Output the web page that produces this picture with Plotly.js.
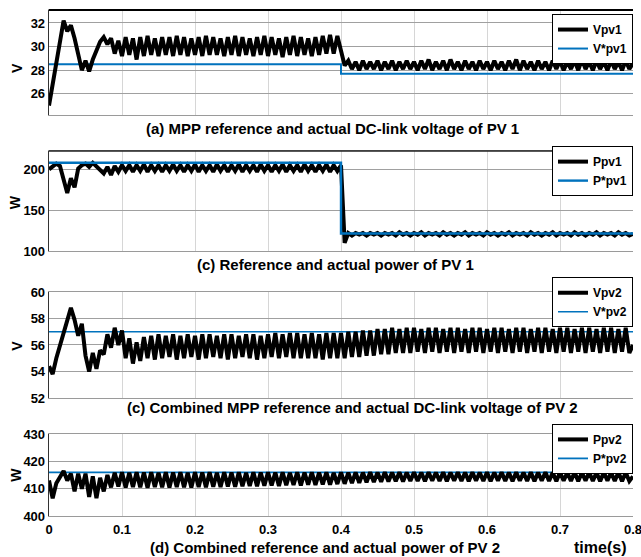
<!DOCTYPE html>
<html>
<head>
<meta charset="utf-8">
<script src="https://cdn.plot.ly/plotly-3.0.1.min.js"></script>
<style>
html,body{margin:0;padding:0;background:#fff;overflow:hidden;}
#chart{width:641px;height:557px;}
</style>
</head>
<body>
<div id="chart"></div>
<script>
// ---- Data (sampled every 0.005 s from 0 to 0.8 s) ----
const sampleStep = 0.005;

const vpv1 = [
  25.0, 26.9, 28.6, 30.8, 32.2, 31.3, 31.8, 30.7, 29.4, 28.0,
  28.8, 27.9, 28.9, 29.7, 30.4, 30.8, 30.2, 30.7, 29.4, 30.5,
  29.2, 30.8, 29.3, 30.7, 28.9, 30.8, 29.2, 30.9, 29.3, 30.7,
  29.2, 30.8, 29.3, 30.8, 29.2, 30.9, 29.3, 30.8, 29.2, 30.7,
  29.3, 30.8, 29.2, 30.9, 29.3, 30.8, 29.3, 30.7, 29.2, 30.8,
  29.3, 30.9, 29.2, 30.8, 29.3, 30.7, 29.2, 30.8, 29.3, 30.9,
  29.2, 30.8, 29.3, 30.7, 29.1, 30.8, 29.3, 30.9, 29.2, 30.8,
  29.3, 30.7, 29.2, 30.8, 29.3, 30.9, 29.4, 31.0, 29.4, 30.9,
  29.8, 28.4, 28.8, 28.1, 28.7, 28.0, 28.8, 28.1, 28.7, 28.1,
  28.8, 28.0, 28.7, 28.1, 28.8, 28.0, 28.7, 28.1, 28.8, 28.1,
  28.7, 28.0, 28.8, 28.1, 28.9, 28.0, 28.7, 28.1, 28.8, 28.0,
  28.9, 28.1, 28.7, 28.0, 28.8, 28.1, 28.7, 28.0, 28.8, 28.1,
  28.7, 28.0, 28.8, 28.1, 28.7, 28.0, 28.8, 28.1, 28.9, 28.0,
  28.8, 28.1, 28.7, 28.0, 28.8, 28.1, 28.7, 28.0, 28.8, 28.1,
  28.8, 28.0, 28.7, 28.1, 28.8, 28.0, 28.9, 28.1, 28.7, 28.0,
  28.8, 28.1, 28.7, 28.0, 28.8, 28.1, 28.7, 28.0, 28.8, 28.1,
  28.6
];

const ppv1 = [
  200, 204, 207, 204, 186, 171, 189, 178, 201, 205,
  207, 203, 208, 204, 199, 195, 203, 193, 204, 197,
  205, 198, 205, 197, 205, 198, 206, 197, 205, 198,
  205, 197, 205, 198, 206, 198, 205, 197, 205, 198,
  206, 197, 205, 198, 205, 197, 206, 198, 205, 197,
  205, 198, 206, 197, 205, 198, 205, 197, 206, 198,
  205, 197, 205, 198, 206, 197, 205, 198, 205, 197,
  206, 198, 205, 197, 205, 198, 206, 197, 205, 198,
  205, 110, 122, 119, 122, 120, 122, 119, 122, 120,
  122, 119, 122, 120, 122, 119, 123, 120, 122, 119,
  122, 120, 123, 119, 122, 120, 122, 119, 123, 120,
  122, 119, 122, 120, 123, 119, 122, 120, 122, 119,
  123, 120, 122, 119, 122, 120, 123, 119, 122, 120,
  122, 119, 123, 120, 122, 119, 122, 120, 123, 119,
  122, 120, 122, 119, 123, 120, 122, 119, 122, 120,
  123, 119, 122, 120, 122, 119, 123, 120, 122, 119,
  121
];

const vpv2 = [
  54.4, 53.8, 55.0, 56.0, 56.8, 58.0, 58.8, 57.9, 56.7, 57.6,
  55.2, 54.0, 55.4, 54.2, 55.6, 55.3, 56.8, 55.8, 57.3, 56.0,
  57.1, 55.0, 56.5, 54.6, 56.2, 54.8, 56.6, 55.0, 56.7, 54.9,
  56.8, 55.0, 56.7, 55.1, 56.8, 54.9, 56.7, 55.0, 56.8, 55.1,
  56.7, 54.9, 56.8, 55.0, 56.8, 55.1, 56.7, 55.0, 56.8, 54.9,
  56.8, 55.0, 56.7, 55.1, 56.8, 55.0, 56.8, 54.9, 56.7, 55.0,
  56.8, 55.1, 56.9, 55.0, 56.8, 55.1, 56.9, 55.0, 56.9, 55.0,
  56.8, 55.0, 56.9, 55.0, 56.8, 54.9, 56.9, 55.0, 56.9, 55.0,
  56.9, 55.0, 57.0, 55.1, 57.0, 55.1, 57.1, 55.2, 57.1, 55.2,
  57.2, 55.3, 57.2, 55.3, 57.3, 55.4, 57.2, 55.4, 57.3, 55.4,
  57.3, 55.5, 57.2, 55.4, 57.3, 55.5, 57.3, 55.4, 57.2, 55.5,
  57.3, 55.4, 57.3, 55.5, 57.2, 55.4, 57.3, 55.5, 57.3, 55.4,
  57.2, 55.5, 57.3, 55.4, 57.3, 55.5, 57.2, 55.4, 57.3, 55.5,
  57.3, 55.4, 57.2, 55.5, 57.3, 55.4, 57.3, 55.5, 57.2, 55.4,
  57.3, 55.5, 57.3, 55.4, 57.2, 55.5, 57.3, 55.4, 57.3, 55.5,
  57.2, 55.4, 57.3, 55.5, 57.3, 55.4, 57.2, 55.5, 57.3, 55.4,
  56.0
];

const ppv2 = [
  413.0, 406.5, 412.0, 414.5, 416.5, 413.0, 415.5, 409.0, 415.5, 410.0,
  415.5, 407.0, 414.5, 406.5, 414.0, 409.0, 415.0, 410.5, 415.8, 410.8,
  416.0, 410.4, 415.8, 410.6, 416.0, 410.5, 415.9, 410.3, 416.0, 410.6,
  415.8, 410.5, 416.0, 410.4, 415.9, 410.6, 416.0, 410.5, 415.8, 410.4,
  416.0, 410.6, 415.9, 410.5, 416.0, 410.7, 415.8, 410.6, 416.0, 410.8,
  415.9, 410.7, 416.0, 410.9, 415.8, 411.0, 416.0, 410.9, 415.9, 411.1,
  416.0, 411.2, 415.9, 411.0, 416.0, 411.3, 415.8, 411.4, 416.0, 411.2,
  415.9, 411.5, 416.0, 411.4, 415.9, 411.6, 416.0, 411.5, 415.8, 411.7,
  416.0, 411.8, 415.9, 412.0, 416.0, 412.1, 415.9, 412.3, 416.0, 412.4,
  415.9, 412.5, 416.0, 412.6, 415.9, 412.7, 416.0, 412.6, 415.9, 412.8,
  416.0, 412.8, 415.9, 412.7, 416.0, 412.9, 415.9, 412.8, 416.0, 412.7,
  415.9, 412.9, 416.0, 412.8, 415.9, 412.7, 416.0, 412.9, 415.9, 412.8,
  416.0, 412.7, 415.9, 412.9, 416.0, 412.8, 415.9, 412.7, 416.0, 412.9,
  415.9, 412.8, 416.0, 412.7, 415.9, 412.9, 416.0, 412.8, 415.9, 412.7,
  416.0, 412.9, 415.9, 412.8, 416.0, 412.7, 415.9, 412.9, 416.0, 412.8,
  415.9, 412.7, 416.0, 412.9, 415.9, 412.8, 416.0, 412.7, 415.9, 412.8,
  414.5
];

// Reference (step) signals: value holds from each time until the next
const refTimes = [0, 0.4, 0.8];
const refV1 = [28.5, 27.7, 27.7];
const refP1 = [208, 121.5, 121.5];
const refV2 = [57, 57, 57];
const refP2 = [416, 416, 416];

const xTickVals = [0, 0.1, 0.2, 0.3, 0.4, 0.5, 0.6, 0.7, 0.8];
const xTickText = ['0', '0.1', '0.2', '0.3', '0.4', '0.5', '0.6', '0.7', '0.8'];
const y1Ticks = [26, 28, 30, 32];
const y2Ticks = [100, 150, 200];
const y3Ticks = [52, 54, 56, 58, 60];
const y4Ticks = [400, 410, 420, 430];

const legendNames = {
  a: ['Vpv1', 'V*pv1'],
  b: ['Ppv1', 'P*pv1'],
  c: ['Vpv2', 'V*pv2'],
  d: ['Ppv2', 'P*pv2']
};
const yTitles = ['V', 'W', 'V', 'W'];
const panelTitles = [
  '(a) MPP reference and actual DC-link voltage of PV 1',
  '(c) Reference and actual power of PV 1',
  '(c) Combined MPP reference and actual DC-link voltage of PV 2',
  '(d) Combined reference and actual power of PV 2'
];
const xTitle = 'time(s)';

// ---- Build ----
const t = vpv1.map((_, i) => +(i * sampleStep).toFixed(4));
const BLUE = '#0072BD';
const BLACK = '#000000';

function actual(name, y, ax, leg) {
  return {x: t, y: y, type: 'scatter', mode: 'lines', name: name,
    xaxis: ax[0], yaxis: ax[1], legend: leg, legendrank: 1,
    line: {color: BLACK, width: 4}};
}
function ref(name, y, ax, leg, w) {
  return {x: refTimes, y: y, type: 'scatter', mode: 'lines', name: name,
    xaxis: ax[0], yaxis: ax[1], legend: leg, legendrank: 2,
    line: {color: BLUE, width: w, shape: 'hv'}};
}

const data = [
  ref(legendNames.a[1], refV1, ['x', 'y'], 'legend', 2),
  actual(legendNames.a[0], vpv1, ['x', 'y'], 'legend'),
  actual(legendNames.b[0], ppv1, ['x2', 'y2'], 'legend2'),
  ref(legendNames.b[1], refP1, ['x2', 'y2'], 'legend2', 2.4),
  ref(legendNames.c[1], refV2, ['x3', 'y3'], 'legend3', 1.5),
  actual(legendNames.c[0], vpv2, ['x3', 'y3'], 'legend3'),
  ref(legendNames.d[1], refP2, ['x4', 'y4'], 'legend4', 1.8),
  actual(legendNames.d[0], ppv2, ['x4', 'y4'], 'legend4')
];

const FONT = 'Liberation Sans, Arial, sans-serif';
const tickFont = {family: FONT, size: 13, color: '#000', weight: 'bold'};

function xax(anchor, showLabels) {
  const a = {
    domain: [0, 1], range: [0, 0.8], anchor: anchor,
    tickvals: xTickVals, ticktext: xTickText, showticklabels: showLabels,
    ticks: '', tickfont: tickFont, ticklabeloverflow: 'allow', ticklabelstandoff: 1,
    showgrid: true, gridcolor: '#d6d6d6', gridwidth: 1,
    zeroline: false, showline: true, mirror: true, linecolor: '#9a9a9a', linewidth: 1
  };
  if (anchor !== 'y') a.matches = 'x';
  return a;
}
function yax(domain, range, ticks) {
  return {
    domain: domain, range: range, tickvals: ticks, ticks: '', tickfont: tickFont,
    showgrid: true, gridcolor: '#a0a0a0', gridwidth: 1, zeroline: false,
    showline: true, linecolor: '#333', linewidth: 1.3
  };
}

function legendBox(yTop) {
  return {
    x: 1, xanchor: 'right', y: yTop, yanchor: 'top',
    bgcolor: '#ffffff', bordercolor: '#000', borderwidth: 1,
    font: {family: FONT, size: 12, color: '#000', weight: 'bold'},
    tracegroupgap: 0, itemwidth: 30
  };
}

const titleFont = {family: FONT, size: 15, color: '#000', weight: 'bold'};
const yTitleFont = {family: FONT, size: 14, color: '#000', weight: 'bold'};
function note(text, x, y, font, angle) {
  return {text: text, xref: 'paper', yref: 'paper', x: x, y: y, xanchor: 'center', yanchor: 'middle',
    showarrow: false, font: font, textangle: angle || 0};
}
const annotations = [
  note(panelTitles[0], 0.485, 0.765, titleFont),
  note(panelTitles[1], 0.49, 0.497, titleFont),
  note(panelTitles[2], 0.52, 0.215, titleFont),
  note(panelTitles[3], 0.472, -0.063, titleFont),
  note(xTitle, 0.944, -0.063, {family: FONT, size: 16, color: '#000', weight: 'bold'}),
  note(yTitles[0], -0.055, 0.885, yTitleFont, -90),
  note(yTitles[1], -0.059, 0.619, yTitleFont, -90),
  note(yTitles[2], -0.055, 0.336, yTitleFont, -90),
  note(yTitles[3], -0.057, 0.081, yTitleFont, -90)
];

const layout = {
  width: 641, height: 557,
  margin: {l: 49, r: 8, t: 10, b: 41},
  paper_bgcolor: '#ffffff', plot_bgcolor: '#ffffff',
  showlegend: true,
  xaxis: xax('y', false),
  xaxis2: xax('y2', false),
  xaxis3: xax('y3', false),
  xaxis4: xax('y4', true),
  yaxis: yax([0.7925, 1.0], [24.2, 33.1], y1Ticks),
  yaxis2: yax([0.5237, 0.7213], [100, 222.4], y2Ticks),
  yaxis3: yax([0.2332, 0.4427], [52, 60], y3Ticks),
  yaxis4: yax([0.0, 0.162], [400, 430], y4Ticks),
  legend: legendBox(0.992),
  legend2: legendBox(0.731),
  legend3: legendBox(0.472),
  legend4: legendBox(0.182),
  annotations: annotations,
  shapes: [
    {type: 'line', xref: 'x domain', yref: 'y domain', x0: 0, x1: 1, y0: 1, y1: 1, line: {color: '#000', width: 2}},
    {type: 'line', xref: 'x2 domain', yref: 'y2 domain', x0: 0, x1: 1, y0: 1, y1: 1, line: {color: '#222', width: 1.5}}
  ]
};

Plotly.newPlot('chart', data, layout, {displayModeBar: false, staticPlot: true});
</script>
</body>
</html>
